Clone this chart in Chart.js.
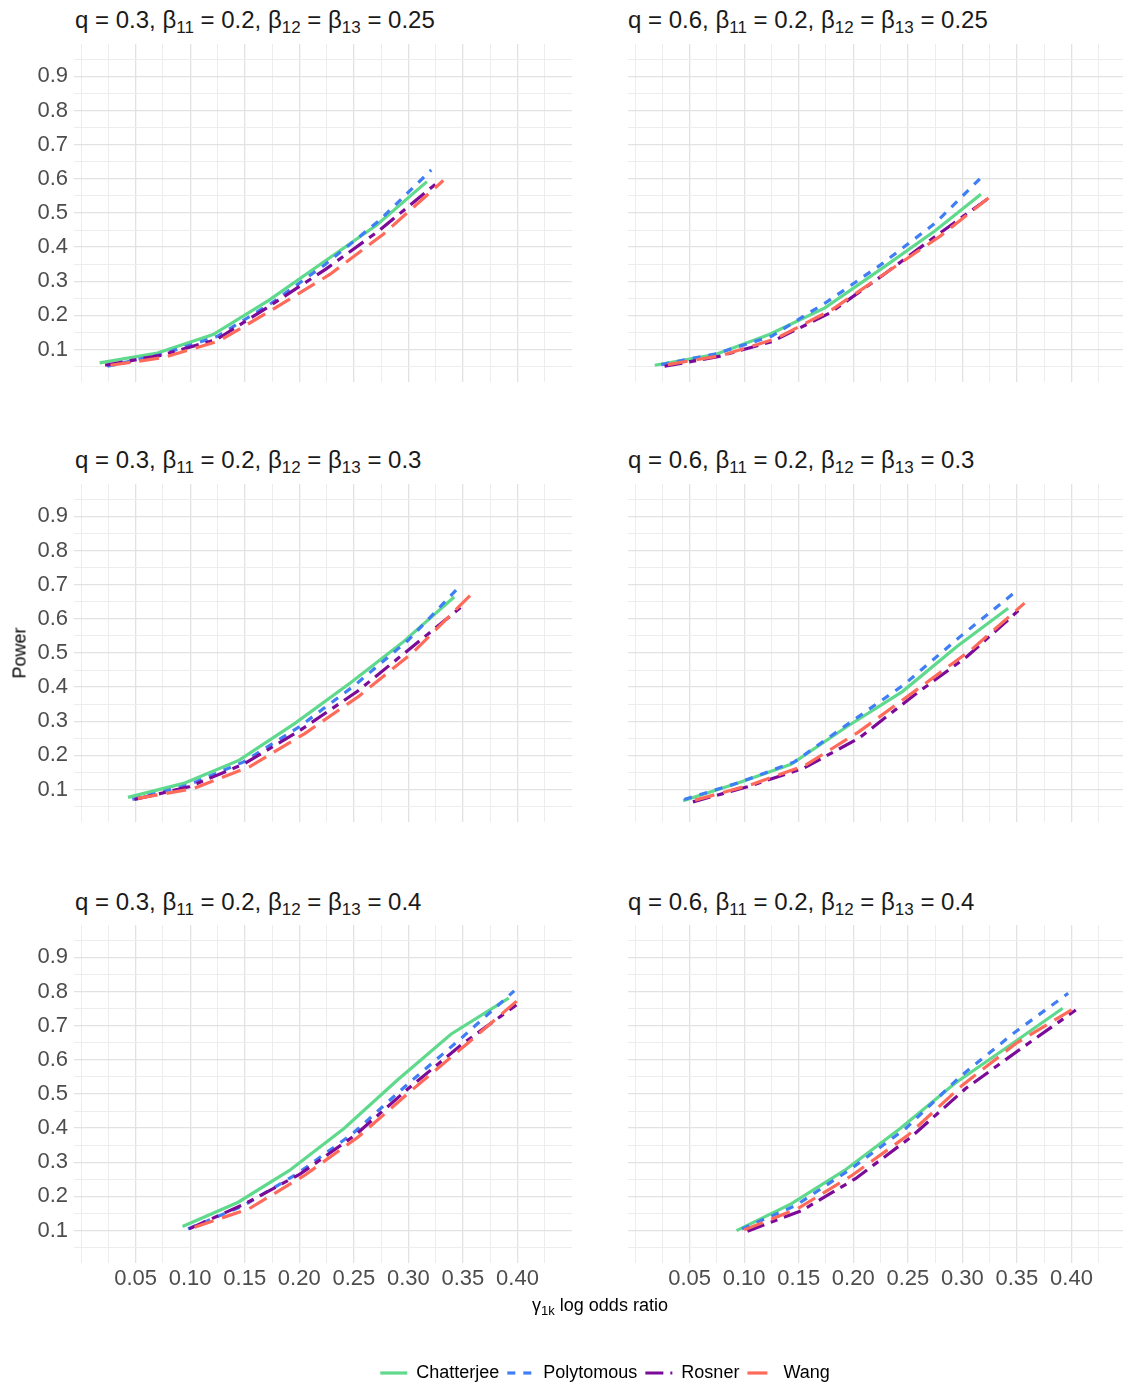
<!DOCTYPE html>
<html>
<head>
<meta charset="utf-8">
<title>Power by log odds ratio</title>
<script src="https://cdn.jsdelivr.net/npm/chart.js@4.4.1/dist/chart.umd.min.js"></script>
<style>
  html, body { margin: 0; padding: 0; background: #fff; }
  body {
    width: 1123px; height: 1382px; position: relative; overflow: hidden;
    font-family: 'Liberation Sans', Arial, sans-serif;
  }
  canvas { position: absolute; }
  .panel-title {
    position: absolute; font-size: 24px; line-height: 28px; color: #1a1a1a; white-space: nowrap;
  }
  .panel-title sub { font-size: 17px; vertical-align: -5px; line-height: 0; }
  .axis-title {
    position: absolute; font-size: 18px; color: #000; white-space: nowrap;
    transform: translate(-50%, -50%);
  }
  .axis-title.y { transform: translate(-50%, -50%) rotate(-90deg); }
  .axis-title sub { font-size: 13px; vertical-align: -4px; line-height: 0; }
</style>
</head>
<body>
<script>
// ============================================
// DATA
// ============================================

const methods = ['Chatterjee', 'Polytomous', 'Rosner', 'Wang'];
const qValues = ['0.3', '0.6'];
const beta11Value = '0.2';
const beta12Values = ['0.25', '0.3', '0.4'];

const xGridBreaks = [0, 0.025, 0.05, 0.075, 0.1, 0.125, 0.15, 0.175, 0.2, 0.225,
                     0.25, 0.275, 0.3, 0.325, 0.35, 0.375, 0.4, 0.425, 0.45];
const xLabelBreaks = [0.05, 0.1, 0.15, 0.2, 0.25, 0.3, 0.35, 0.4];
const yGridBreaks = [0.05, 0.1, 0.15, 0.2, 0.25, 0.3, 0.35, 0.4, 0.45, 0.5,
                     0.55, 0.6, 0.65, 0.7, 0.75, 0.8, 0.85, 0.9, 0.95];
const yLabelBreaks = [0.1, 0.2, 0.3, 0.4, 0.5, 0.6, 0.7, 0.8, 0.9];

// q = 0.3, b12 = b13 = 0.25
const chatterjee_q03_b025 = [[0.017, 0.061], [0.070, 0.090], [0.121, 0.144], [0.172, 0.244], [0.223, 0.358], [0.271, 0.465], [0.317, 0.592]];
const polytomous_q03_b025 = [[0.024, 0.051], [0.075, 0.087], [0.125, 0.139], [0.175, 0.237], [0.224, 0.350], [0.273, 0.477], [0.321, 0.626]];
const rosner_q03_b025     = [[0.022, 0.054], [0.073, 0.083], [0.124, 0.129], [0.175, 0.232], [0.224, 0.335], [0.273, 0.448], [0.327, 0.590]];
const wang_q03_b025       = [[0.027, 0.054], [0.076, 0.077], [0.127, 0.126], [0.178, 0.222], [0.228, 0.320], [0.277, 0.438], [0.332, 0.595]];

// q = 0.6, b12 = b13 = 0.25
const chatterjee_q06_b025 = [[0.018, 0.054], [0.073, 0.085], [0.123, 0.144], [0.174, 0.222], [0.225, 0.335], [0.275, 0.448], [0.317, 0.555]];
const polytomous_q06_b025 = [[0.024, 0.056], [0.073, 0.087], [0.125, 0.139], [0.176, 0.240], [0.225, 0.348], [0.275, 0.470], [0.316, 0.600]];
const rosner_q06_b025     = [[0.027, 0.051], [0.077, 0.080], [0.126, 0.124], [0.179, 0.208], [0.228, 0.320], [0.278, 0.438], [0.326, 0.548]];
const wang_q06_b025       = [[0.030, 0.056], [0.080, 0.083], [0.129, 0.132], [0.181, 0.218], [0.230, 0.325], [0.280, 0.433], [0.324, 0.544]];

// q = 0.3, b12 = b13 = 0.3
const chatterjee_q03_b03 = [[0.043, 0.077], [0.094, 0.118], [0.145, 0.186], [0.196, 0.294], [0.247, 0.413], [0.294, 0.529], [0.342, 0.664]];
const polytomous_q03_b03 = [[0.047, 0.071], [0.098, 0.113], [0.149, 0.181], [0.200, 0.284], [0.251, 0.406], [0.300, 0.538], [0.344, 0.685]];
const rosner_q03_b03     = [[0.049, 0.071], [0.099, 0.108], [0.150, 0.176], [0.201, 0.274], [0.253, 0.387], [0.302, 0.514], [0.349, 0.636]];
const wang_q03_b03       = [[0.052, 0.074], [0.103, 0.103], [0.154, 0.166], [0.205, 0.264], [0.254, 0.372], [0.305, 0.504], [0.358, 0.673]];

// q = 0.6, b12 = b13 = 0.3
const chatterjee_q06_b03 = [[0.044, 0.067], [0.093, 0.118], [0.143, 0.174], [0.194, 0.284], [0.245, 0.387], [0.295, 0.519], [0.342, 0.631]];
const polytomous_q06_b03 = [[0.045, 0.071], [0.095, 0.120], [0.146, 0.181], [0.196, 0.294], [0.246, 0.406], [0.298, 0.548], [0.347, 0.675]];
const rosner_q06_b03     = [[0.053, 0.064], [0.103, 0.108], [0.154, 0.162], [0.205, 0.250], [0.256, 0.377], [0.304, 0.489], [0.352, 0.626]];
const wang_q06_b03       = [[0.055, 0.069], [0.105, 0.113], [0.156, 0.171], [0.205, 0.269], [0.258, 0.392], [0.308, 0.509], [0.357, 0.646]];

// q = 0.3, b12 = b13 = 0.4
const chatterjee_q03_b04 = [[0.093, 0.112], [0.144, 0.183], [0.191, 0.276], [0.241, 0.399], [0.290, 0.541], [0.339, 0.675], [0.392, 0.781]];
const polytomous_q03_b04 = [[0.098, 0.105], [0.149, 0.173], [0.198, 0.266], [0.249, 0.384], [0.298, 0.525], [0.349, 0.665], [0.397, 0.802]];
const rosner_q03_b04     = [[0.099, 0.105], [0.150, 0.178], [0.201, 0.266], [0.251, 0.379], [0.300, 0.516], [0.349, 0.645], [0.399, 0.761]];
const wang_q03_b04       = [[0.104, 0.110], [0.154, 0.164], [0.205, 0.262], [0.254, 0.374], [0.303, 0.511], [0.353, 0.645], [0.400, 0.774]];

// q = 0.6, b12 = b13 = 0.4
const chatterjee_q06_b04 = [[0.093, 0.100], [0.143, 0.178], [0.192, 0.276], [0.243, 0.399], [0.293, 0.531], [0.342, 0.639], [0.392, 0.751]];
const polytomous_q06_b04 = [[0.098, 0.105], [0.147, 0.173], [0.198, 0.281], [0.248, 0.399], [0.298, 0.551], [0.347, 0.678], [0.397, 0.795]];
const rosner_q06_b04     = [[0.103, 0.098], [0.153, 0.159], [0.202, 0.252], [0.253, 0.374], [0.303, 0.516], [0.352, 0.629], [0.404, 0.746]];
const wang_q06_b04       = [[0.100, 0.102], [0.149, 0.164], [0.199, 0.262], [0.250, 0.379], [0.300, 0.526], [0.349, 0.648], [0.405, 0.756]];

// ============================================
// STYLE / LAYOUT
// ============================================

const FONT = "'Liberation Sans', Arial, sans-serif";
const colors = ['#5FD98C', '#3F7EF5', '#7B0A99', '#FF6B5B'];
const dashes = [[], [8, 8], [18, 7, 7, 7], [20, 9]];

const X_MIN = -0.0065, X_MAX = 0.45;
const Y_MIN = 0.005, Y_MAX = 0.995;
const PANEL_W = 498, PANEL_H = 338, AXIS_H = 40;
const ROW_TOP = [44, 484, 925];
const COLS = [
  { left: 0, axisW: 74, titleX: 75, showY: true },
  { left: 628, axisW: 0, titleX: 628, showY: false }
];
const TITLE_Y = [20, 460, 902];

const panelSeries = [
  [[chatterjee_q03_b025, polytomous_q03_b025, rosner_q03_b025, wang_q03_b025],
   [chatterjee_q06_b025, polytomous_q06_b025, rosner_q06_b025, wang_q06_b025]],
  [[chatterjee_q03_b03, polytomous_q03_b03, rosner_q03_b03, wang_q03_b03],
   [chatterjee_q06_b03, polytomous_q06_b03, rosner_q06_b03, wang_q06_b03]],
  [[chatterjee_q03_b04, polytomous_q03_b04, rosner_q03_b04, wang_q03_b04],
   [chatterjee_q06_b04, polytomous_q06_b04, rosner_q06_b04, wang_q06_b04]]
];

// ============================================
// HELPERS
// ============================================

function inList(v, list) {
  return list.some(b => Math.abs(b - v) < 1e-9);
}

function addDiv(cls, html, style) {
  const d = document.createElement('div');
  d.className = cls;
  d.innerHTML = html;
  Object.assign(d.style, style);
  document.body.appendChild(d);
  return d;
}

function gridColor(list) {
  return ctx => inList(ctx.tick.value, list) ? '#E2E2E2' : '#EDEDED';
}

function gridWidth(list) {
  return ctx => inList(ctx.tick.value, list) ? 1.3 : 1;
}

// ============================================
// PANELS
// ============================================

function makePanel(row, col) {
  const c = COLS[col];
  const canvas = document.createElement('canvas');
  canvas.width = c.axisW + PANEL_W;
  canvas.height = PANEL_H + AXIS_H;
  canvas.style.left = c.left + 'px';
  canvas.style.top = ROW_TOP[row] + 'px';
  document.body.appendChild(canvas);

  const showX = row === 2;
  const series = panelSeries[row][col];

  new Chart(canvas, {
    type: 'line',
    data: {
      datasets: methods.map((m, i) => ({
        label: m,
        data: series[i].map(p => ({ x: p[0], y: p[1] })),
        borderColor: colors[i],
        borderDash: dashes[i],
        borderWidth: 3.2,
        borderCapStyle: 'butt',
        pointRadius: 0,
        tension: 0,
        fill: false,
        order: methods.length - i
      }))
    },
    options: {
      responsive: false,
      animation: false,
      events: [],
      layout: { padding: 0 },
      plugins: { legend: { display: false }, tooltip: { enabled: false } },
      scales: {
        x: {
          type: 'linear',
          min: X_MIN,
          max: X_MAX,
          border: { display: false },
          grid: { color: gridColor(xLabelBreaks), lineWidth: gridWidth(xLabelBreaks), drawTicks: false },
          ticks: {
            display: showX,
            autoSkip: false,
            maxRotation: 0,
            padding: 3,
            color: '#4D4D4D',
            font: { family: FONT, size: 22 },
            callback: v => inList(v, xLabelBreaks) ? v.toFixed(2) : ''
          },
          afterBuildTicks: s => { s.ticks = xGridBreaks.map(v => ({ value: v })); },
          afterFit: s => {
            s.height = AXIS_H;
            s.paddingLeft = 0; s.paddingRight = 0;
          }
        },
        y: {
          type: 'linear',
          min: Y_MIN,
          max: Y_MAX,
          border: { display: false },
          grid: { color: gridColor(yLabelBreaks), lineWidth: gridWidth(yLabelBreaks), drawTicks: false },
          ticks: {
            display: c.showY,
            autoSkip: false,
            padding: 6,
            color: '#4D4D4D',
            font: { family: FONT, size: 22 },
            callback: v => inList(v, yLabelBreaks) ? v.toFixed(1) : ''
          },
          afterBuildTicks: s => { s.ticks = yGridBreaks.map(v => ({ value: v })); },
          afterFit: s => {
            s.width = c.axisW;
            s.paddingTop = 0; s.paddingBottom = 0;
          }
        }
      }
    }
  });

  const title = `q = ${qValues[col]}, β<sub>11</sub> = ${beta11Value}, ` +
                `β<sub>12</sub> = β<sub>13</sub> = ${beta12Values[row]}`;
  addDiv('panel-title', title, { left: c.titleX + 'px', top: (TITLE_Y[row] - 14) + 'px' });
}

// ============================================
// LEGEND (own chart, no axes)
// ============================================

function makeLegend() {
  const canvas = document.createElement('canvas');
  canvas.width = 1050;
  canvas.height = 90;
  canvas.style.left = '80px';
  canvas.style.top = '1356px';
  document.body.appendChild(canvas);

  new Chart(canvas, {
    type: 'line',
    data: {
      datasets: methods.map((m, i) => ({
        label: m,
        data: [],
        borderColor: colors[i],
        backgroundColor: colors[i],
        borderDash: dashes[i],
        borderWidth: 3.2
      }))
    },
    options: {
      responsive: false,
      animation: false,
      events: [],
      layout: { padding: 0 },
      scales: { x: { display: false }, y: { display: false } },
      plugins: {
        tooltip: { enabled: false },
        legend: {
          position: 'top',
          maxHeight: 60,
          labels: {
            usePointStyle: true,
            pointStyle: 'line',
            pointStyleWidth: 27,
            padding: 8,
            color: '#000',
            font: { family: FONT, size: 18 },
            // line charts hand the point style to the legend, so rebuild the keys
            // from the dataset line settings to keep the dash patterns
            generateLabels: chart => chart.data.datasets.map((ds, i) => ({
              text: ds.label,
              datasetIndex: i,
              hidden: false,
              fontColor: '#000',
              fillStyle: ds.borderColor,
              strokeStyle: ds.borderColor,
              lineWidth: ds.borderWidth,
              lineDash: ds.borderDash,
              lineCap: 'butt',
              pointStyle: 'line'
            }))
          }
        }
      }
    }
  });
}

for (let r = 0; r < 3; r++) {
  for (let c = 0; c < 2; c++) makePanel(r, c);
}
makeLegend();

addDiv('axis-title', 'γ<sub>1k</sub> log odds ratio', { left: '600px', top: '1305px' });
addDiv('axis-title y', 'Power', { left: '20px', top: '653px' });
</script>
</body>
</html>
